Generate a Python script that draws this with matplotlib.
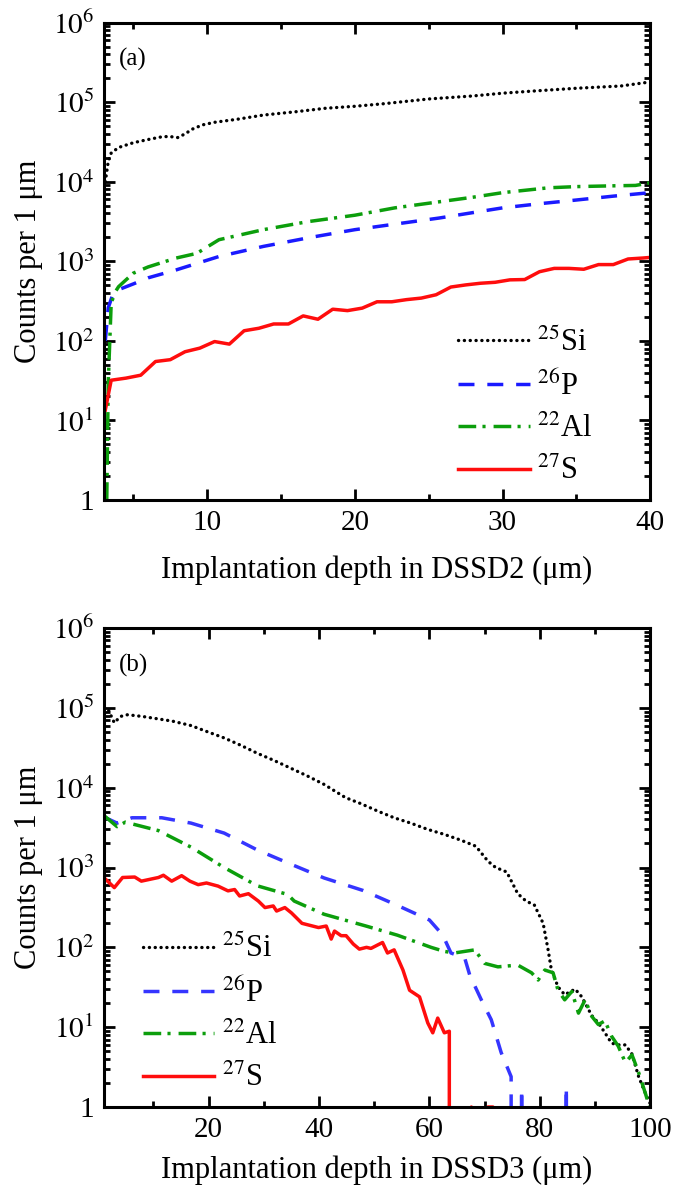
"""
Implantation depth distributions in DSSD2 / DSSD3 (two stacked log panels).
"""
import math
import matplotlib
matplotlib.use("Agg")
import matplotlib.pyplot as plt
from matplotlib.ticker import (LogLocator, FuncFormatter, FixedLocator, NullFormatter)

plt.rcParams.update({
    "font.family": ["Liberation Serif", "DejaVu Serif"],
    "mathtext.fontset": "stix",
    "font.size": 22,
    "axes.linewidth": 2.2,
})

# ── panel (a): DSSD2 ──
a_si_x = [3.1, 3.3, 3.5, 4, 5, 6, 7, 7.5, 8, 8.5, 9, 9.7, 10.5, 12, 13.8, 16, 18, 20,
          22, 25, 28, 30, 32, 35, 38, 40]
a_si_y = [1.0e4, 1.8e4, 2.3e4, 2.7e4, 3.1e4, 3.4e4, 3.7e4, 3.7e4, 3.6e4, 4.0e4, 4.6e4, 5.2e4,
          5.6e4, 6.1e4, 6.9e4, 7.6e4, 8.4e4, 8.9e4, 9.6e4, 1.1e5, 1.2e5, 1.3e5, 1.38e5,
          1.5e5, 1.6e5, 1.8e5]

a_p_x = [3.1, 3.3, 3.6, 4, 5, 6, 7.9, 10.8, 13.8, 17, 20, 22.5, 25.7, 28, 30, 32.5, 35, 37.5, 40]
a_p_y = [100, 260, 380, 440, 520, 620, 780, 1150, 1540, 2000, 2500, 2900, 3500, 4100, 4700,
         5300, 5900, 6600, 7300]

a_al_x = [3.2, 3.3, 3.5, 3.8, 4, 5, 6, 7.9, 9.3, 10.8, 12, 13.8, 16.8, 20, 22.7, 25.7, 28,
          30, 33.1, 35, 37.5, 39, 40]
a_al_y = [1, 30, 300, 420, 480, 710, 850, 1100, 1260, 1870, 2100, 2500, 3150, 3800, 4700,
          5600, 6400, 7300, 8400, 8700, 8900, 9000, 9700]

a_s_x = [3.1, 3.5, 4.5, 5.5, 6.5, 7.5, 8.5, 9.5, 10.5, 11.5, 12.5, 13.5, 14.5, 15.5, 16.5,
         17.5, 18.5, 19.5, 20.5, 21.5, 22.5, 23.5, 24.5, 25.5, 26.5, 27.5, 28.5, 29.5, 30.5,
         31.5, 32.5, 33.5, 34.5, 35.5, 36.5, 37.5, 38.5, 39.5, 40]
a_s_y = [13.5, 32, 34, 37, 55, 58, 73, 81, 98, 91, 134, 144, 163, 163, 206, 187, 250, 240,
         258, 310, 310, 330, 345, 380, 475, 505, 530, 545, 585, 590, 740, 815, 815, 795, 910,
         910, 1070, 1100, 1120]

a_xticks = [10, 20, 30, 40]
a_xminor = [5, 15, 25, 35]

# ── panel (b): DSSD3 ──
b_si_x = [1, 1.8, 2.9, 4, 5.3, 8, 10.7, 13.5, 16.8, 19.5, 22.8, 25.8, 28.8, 31.8, 34.9,
          37.9, 40.9, 44.8, 47.6, 50.6, 53.6, 56.6, 59.7, 62.7, 65.7, 68.4, 70.6, 72, 74, 76,
          77.5, 79, 80.6, 81.5, 82.1, 83.3, 84.5, 86.4, 87.6, 89.4, 90.6, 91.8, 93, 94.2,
          95.5, 96.7, 97.9, 99.1, 100]
b_si_y = [1.0e5, 9.5e4, 6.5e4, 7.8e4, 8.2e4, 7.8e4, 7.3e4, 6.8e4, 6.0e4, 5.1e4, 4.2e4,
          3.4e4, 2.7e4, 2.2e4, 1.75e4, 1.4e4, 1.1e4, 7.5e3, 6.3e3, 5.1e3, 4.2e3, 3.6e3,
          3.0e3, 2.6e3, 2.2e3, 1.85e3, 1.2e3, 1.0e3, 880, 470, 380, 340, 200, 93, 52, 32,
          25.5, 30, 24, 14, 11.3, 8.5, 6.3, 6, 6, 4.6, 2.4, 1.5, 1.1]

b_p_x = [1, 3.4, 6.1, 11.5, 16.8, 22.8, 28.8, 34.9, 40.9, 48, 54, 60, 62.4, 63.9, 66.4,
         67.3, 69.4, 71.2, 73, 74.8, 75.8, 76.7, 77, 84.6, 84.8, 85]
b_p_y = [4300, 3600, 4200, 4200, 3600, 2700, 1660, 1100, 740, 515, 340, 220, 143, 85, 73,
         45, 22, 12.4, 4.8, 2.4, 0, 1.7, 0, 0, 1.8, 0]

b_al_x = [1, 3.4, 4.9, 10.9, 16.8, 22.8, 28.8, 34.3, 35.5, 40.9, 48.5, 54.2, 60.3, 62.7,
          64.5, 68.2, 70, 72.4, 76, 78.5, 79.7, 80.9, 82.4, 83.3, 84.5, 85.8, 87, 88.2, 89.4,
          90.6, 91.8, 93, 94.2, 95.5, 96.7, 97.9, 99.1, 99.7, 100]
b_al_y = [4500, 3250, 3700, 2900, 1800, 1000, 590, 460, 380, 260, 185, 142, 100, 89, 85, 93,
          63, 57, 60, 48, 39, 52, 48, 29, 22, 28, 15, 22, 13.7, 10.8, 12, 7.7, 5.8, 3.6, 4.5,
          2.7, 1.5, 1.1, 1]

b_s_x = [1, 2.9, 4.4, 6.6, 7.8, 10.9, 11.8, 13.3, 15.1, 16.6, 18.1, 19.6, 21.7, 23.5, 24.7,
         25.6, 27.2, 29, 30.2, 31.7, 32.3, 33.8, 35, 36.9, 39.9, 41.3, 42.2, 42.8, 44, 44.9,
         46.2, 47.3, 48.6, 49.4, 50.6, 51.5, 52.4, 53.6, 55.2, 56.4, 58.2, 59.7, 60.6, 61.5,
         62.7, 63.6, 64.5, 67.2, 67.6, 68, 70.4, 70.6, 71.5, 71.7]
b_s_y = [750, 560, 750, 760, 675, 750, 800, 675, 790, 675, 610, 640, 585, 510, 530, 440, 470,
         380, 315, 330, 285, 315, 270, 200, 177, 185, 127, 160, 140, 140, 110, 95, 100, 97,
         107, 115, 85, 93, 52, 29, 24, 11.3, 8.5, 13, 8.5, 8.9, 0, 0, 1, 0, 0, 1, 1, 0]

b_xticks = [20, 40, 60, 80, 100]
b_xminor = [10, 30, 50, 70, 90]

y_decades = [1, 1e1, 1e2, 1e3, 1e4, 1e5, 1e6]


def sup(mass, sym):
    return rf"$^{{{mass}}}$" + sym


def yfmt(v, pos):
    if v == 1:
        return "1"
    return rf"$10^{{{int(round(math.log10(v)))}}}$"


def style_axes(ax, xmin, xmax, xmajor, xminor):
    ax.set_yscale("log")
    ax.set_ylim(1, 1e6)
    ax.set_xlim(xmin, xmax)
    ax.xaxis.set_major_locator(FixedLocator(xmajor))
    ax.xaxis.set_minor_locator(FixedLocator(xminor))
    ax.yaxis.set_major_locator(FixedLocator(y_decades))
    ax.yaxis.set_minor_locator(LogLocator(base=10, subs=range(2, 10), numticks=20))
    ax.yaxis.set_major_formatter(FuncFormatter(yfmt))
    ax.yaxis.set_minor_formatter(NullFormatter())
    ax.tick_params(which="both", direction="in", top=True, right=True, width=2)
    ax.tick_params(which="major", length=8, labelsize=21, pad=7)
    ax.tick_params(which="minor", length=4.5)
    ax.set_ylabel("Counts per 1 μm", fontsize=22)
    ax.yaxis.set_label_coords(-0.112, 0.5)


def draw(ax, series):
    for (x, y, lbl, col, ls, lw) in series:
        ax.plot(x, y, color=col, linestyle=ls, lw=lw, label=lbl,
                dash_capstyle="round" if ls == dot else "butt")


def add_legend(ax, x0, y0):
    ax.legend(loc="upper left", bbox_to_anchor=(x0, y0), frameon=False, fontsize=22,
              handlelength=2.35, handletextpad=0.25, labelspacing=0.43, borderpad=0,
              borderaxespad=0)


fig = plt.figure(figsize=(6.83, 11.96), dpi=100)
ax1 = fig.add_axes([0.152, 0.582, 0.800, 0.399])
ax2 = fig.add_axes([0.152, 0.0744, 0.800, 0.4005])

dot = (0, (0.05, 1.7))
dash = (0, (4.6, 3.7))
dashdot = (0, (5.1, 1.8, 0.9, 2.3))

draw(ax1, [
    (a_si_x, a_si_y, sup(25, "Si"), "black", dot, 2.4),
    (a_p_x, a_p_y, sup(26, "P"), "#1a1aff", dash, 2.5),
    (a_al_x, a_al_y, sup(22, "Al"), "#0c9e0c", dashdot, 2.5),
    (a_s_x, a_s_y, sup(27, "S"), "#ff0d0d", "-", 2.5),
])
style_axes(ax1, 3.0, 40, a_xticks, a_xminor)
ax1.set_xlabel("Implantation depth in DSSD2 (μm)", fontsize=22, labelpad=14)
ax1.text(0.027, 0.922, "(a)", transform=ax1.transAxes, fontsize=18, va="center")
add_legend(ax1, 0.648, 0.361)

draw(ax2, [
    (b_si_x, b_si_y, sup(25, "Si"), "black", dot, 2.4),
    (b_p_x, b_p_y, sup(26, "P"), "#3535ff", dash, 2.5),
    (b_al_x, b_al_y, sup(22, "Al"), "#0c9e0c", dashdot, 2.5),
    (b_s_x, b_s_y, sup(27, "S"), "#ff0d0d", "-", 2.5),
])
style_axes(ax2, 1, 100, b_xticks, b_xminor)
ax2.set_xlabel("Implantation depth in DSSD3 (μm)", fontsize=22, labelpad=9)
ax2.text(0.027, 0.922, "(b)", transform=ax2.transAxes, fontsize=18, va="center")
add_legend(ax2, 0.071, 0.36)

fig.savefig("out.png", dpi=100)
